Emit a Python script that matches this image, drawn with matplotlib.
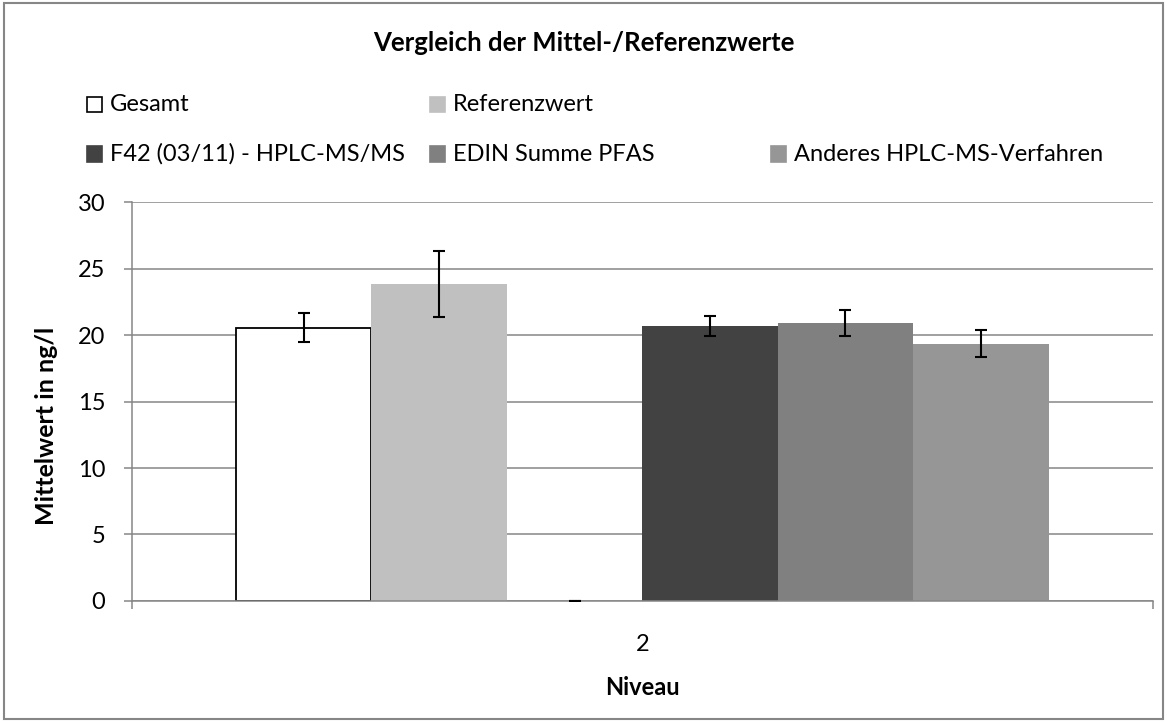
import matplotlib.pyplot as plt
from matplotlib.patches import Rectangle

plt.rcParams["font.family"] = ["Lato", "DejaVu Sans"]

# data
category = "2"
series = ["Gesamt", "Referenzwert", "", "F42 (03/11) - HPLC-MS/MS", "EDIN Summe PFAS",
          "Anderes HPLC-MS-Verfahren"]
means = [20.55, 23.82, 0.0, 20.70, 20.92, 19.35]
errors = [1.07, 2.48, 0.0, 0.75, 0.98, 1.03]
colors = ["white", "#c0c0c0", "white", "#424242", "#808080", "#969696"]
edges = ["black", "#c0c0c0", "white", "#424242", "#808080", "#969696"]
yticks = [0, 5, 10, 15, 20, 25, 30]

fig = plt.figure(figsize=(11.67, 7.22), dpi=100)
fig.patches.append(Rectangle((0.003, 0.004), 0.994, 0.992, transform=fig.transFigure,
                             fill=False, edgecolor="#868686", linewidth=1.5))
ax = fig.add_axes([0.1128, 0.1676, 0.988 - 0.1128, 0.7202 - 0.1676])

n = len(series)
group = 0.7955
w = group / n
for i, (m, e) in enumerate(zip(means, errors)):
    x = (i - (n - 1) / 2) * w
    lw = 1.3 if edges[i] == "black" else 0
    ax.bar(x, m, width=w, color=colors[i], edgecolor=edges[i], linewidth=lw, zorder=2)
    ax.errorbar(x, m, yerr=e, fmt="none", ecolor="black", elinewidth=1.5,
                capsize=4.3, capthick=1.5, zorder=3)

ax.set_xlim(-0.5, 0.5)
ax.set_ylim(0, 30)
ax.set_yticks(yticks)
ax.set_xticks([0])
ax.set_xticklabels([category])
ax.set_xticks([-0.5, 0.5], minor=True)
ax.yaxis.grid(True, color="#868686", linewidth=1.1, zorder=0)
ax.set_axisbelow(True)
for s in ["top", "right"]:
    ax.spines[s].set_visible(False)
for s in ["left", "bottom"]:
    ax.spines[s].set_color("#868686")
    ax.spines[s].set_linewidth(1.1)
ax.tick_params(axis="y", length=6, width=1.1, color="#868686", labelsize=17, pad=13)
ax.tick_params(axis="x", which="major", length=0, labelsize=17, pad=24)
ax.tick_params(axis="x", which="minor", length=6, width=1.1, color="#868686")
ax.set_ylabel("Mittelwert in ng/l", fontsize=18, fontweight="bold")
ax.yaxis.set_label_coords(-0.0724, 0.44)
ax.set_xlabel("Niveau", fontsize=17, fontweight="bold")
ax.xaxis.set_label_coords(0.5, -0.188)

fig.text(0.5, 0.9404, "Vergleich der Mittel-/Referenzwerte", ha="center", va="center",
         fontsize=18.5, fontweight="bold")

# legend laid out like the original: two rows, three columns
legend_pos = {0: (0.0746, 0.8546), 1: (0.3685, 0.8546),
              3: (0.0746, 0.7867), 4: (0.3685, 0.7867), 5: (0.6607, 0.7867)}
for i, (lx, ly) in legend_pos.items():
    fig.patches.append(Rectangle((lx, ly - 0.0104), 0.0129, 0.0208, transform=fig.transFigure,
                                 facecolor=colors[i], edgecolor=edges[i], linewidth=1.2))
    fig.text(lx + 0.0197, ly, series[i], ha="left", va="center", fontsize=17)

fig.savefig("out.png", dpi=100)
